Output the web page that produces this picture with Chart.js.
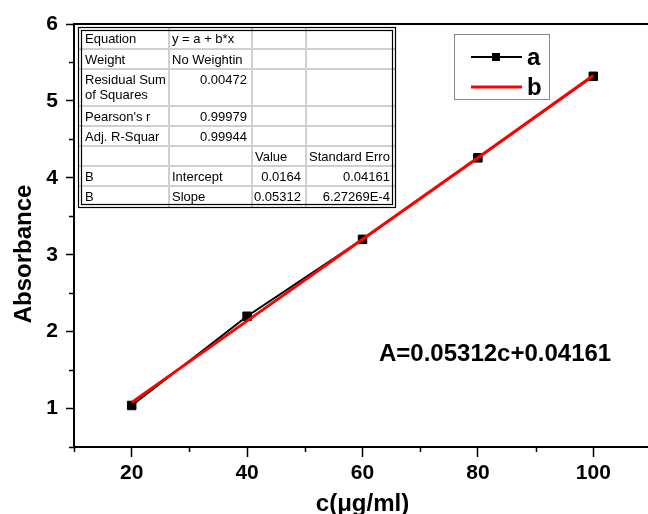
<!DOCTYPE html>
<html>
<head>
<meta charset="utf-8">
<script src="https://cdn.jsdelivr.net/npm/chart.js@4.4.0/dist/chart.umd.min.js"></script>
<style>
  html, body { margin: 0; padding: 0; background: #fff; overflow: hidden; }
  #wrap { width: 660px; height: 514px; position: relative; }
</style>
</head>
<body>
<div id="wrap"><canvas id="chart" width="660" height="514"></canvas></div>
<script>
// data
const concentrations = [20, 40, 60, 80, 100];
const absorbanceA = [1.04, 2.2, 3.2, 4.26, 5.32];      // measured points
const absorbanceB = [1.08, 2.14, 3.2, 4.26, 5.33];     // linear fit line
const seriesNames = ['a', 'b'];
const xLabelTicks = [20, 40, 60, 80, 100];
const yLabelTicks = [1, 2, 3, 4, 5, 6];
const xTitle = 'c(μg/ml)';
const yTitle = 'Absorbance';
const equationText = 'A=0.05312c+0.04161';

// fit report table (Origin style)
const tableRows = [
  ['Equation', 'y = a + b*x', '', ''],
  ['Weight', 'No Weightin', '', ''],
  ['Residual Sum\nof Squares', '0.00472', '', ''],
  ["Pearson's r", '0.99979', '', ''],
  ['Adj. R-Squar', '0.99944', '', ''],
  ['', '', 'Value', 'Standard Erro'],
  ['B', 'Intercept', '0.0164', '0.04161'],
  ['B', 'Slope', '0.05312', '6.27269E-4'],
];

const FONT = '"Liberation Sans", Arial, sans-serif';

// minor ticks, top frame and the y title (sits a bit below centre in the original)
const framePlugin = {
  id: 'frame',
  afterDraw(chart) {
    const ctx = chart.ctx;
    const { left, right, top, bottom } = chart.chartArea;
    const xs = chart.scales.x, ys = chart.scales.y;
    ctx.save();
    ctx.strokeStyle = '#000';
    ctx.lineWidth = 2;
    ctx.beginPath();
    ctx.moveTo(left - 1, top);
    ctx.lineTo(right + 1, top);
    ctx.moveTo(right, top);
    ctx.lineTo(right, bottom);
    ctx.stroke();
    ctx.lineWidth = 1.5;
    ctx.beginPath();
    for (let v = 10; v <= 110; v += 20) {
      const px = Math.round(xs.getPixelForValue(v)) + 0.5;
      ctx.moveTo(px, bottom);
      ctx.lineTo(px, bottom + 5);
    }
    for (let v = 0.5; v <= 6; v += 1) {
      const py = Math.round(ys.getPixelForValue(v)) + 0.5;
      ctx.moveTo(left, py);
      ctx.lineTo(left - 5, py);
    }
    ctx.stroke();

    ctx.translate(24, 254);
    ctx.rotate(-Math.PI / 2);
    ctx.fillStyle = '#000';
    ctx.font = 'bold 24px ' + FONT;
    ctx.textAlign = 'center';
    ctx.textBaseline = 'middle';
    ctx.fillText(yTitle, 0, 0);
    ctx.restore();
  }
};

// fit result table in the upper left
const tablePlugin = {
  id: 'fitTable',
  afterDraw(chart) {
    const ctx = chart.ctx;
    const colX = [79, 169, 252, 306, 395];
    const rowY = [28, 49, 69, 106, 126, 146, 166, 186, 207];
    ctx.save();
    ctx.fillStyle = '#fff';
    ctx.fillRect(colX[0], rowY[0], colX[4] - colX[0], rowY[8] - rowY[0]);
    // inner grid
    ctx.strokeStyle = '#cfcfcf';
    ctx.lineWidth = 2;
    ctx.beginPath();
    for (let i = 1; i < colX.length - 1; i++) {
      ctx.moveTo(colX[i], rowY[0]);
      ctx.lineTo(colX[i], rowY[8]);
    }
    for (let j = 1; j < rowY.length - 1; j++) {
      ctx.moveTo(colX[0], rowY[j]);
      ctx.lineTo(colX[4], rowY[j]);
    }
    ctx.stroke();
    // double outer border
    ctx.strokeStyle = '#000';
    ctx.lineWidth = 1.2;
    ctx.strokeRect(colX[0] - 0.5, rowY[0] - 0.5, colX[4] - colX[0] + 1, rowY[8] - rowY[0] + 1);
    ctx.strokeRect(colX[0] + 2.5, rowY[0] + 2.5, colX[4] - colX[0] - 5, rowY[8] - rowY[0] - 5);
    // text
    ctx.fillStyle = '#000';
    ctx.font = '13px ' + FONT;
    ctx.textBaseline = 'middle';
    tableRows.forEach((row, r) => {
      row.forEach((cell, c) => {
        if (!cell) return;
        const numeric = /^[0-9.E-]+$/.test(cell);
        ctx.textAlign = numeric ? 'right' : 'left';
        const x = numeric ? colX[c + 1] - 5 : colX[c] + (c === 0 ? 6 : 3);
        cell.split('\n').forEach((line, k) => {
          ctx.fillText(line, x, rowY[r] + 11.5 + k * 15);
        });
      });
    });
    ctx.restore();
  }
};

// legend box and equation label
const notePlugin = {
  id: 'notes',
  afterDraw(chart) {
    const ctx = chart.ctx;
    const dsA = chart.data.datasets[1], dsB = chart.data.datasets[0];
    ctx.save();
    ctx.strokeStyle = '#888';
    ctx.lineWidth = 1;
    ctx.strokeRect(454.5, 34.5, 95, 65);
    ctx.lineWidth = dsA.borderWidth;
    ctx.strokeStyle = dsA.borderColor;
    ctx.beginPath();
    ctx.moveTo(471, 57);
    ctx.lineTo(522, 57);
    ctx.stroke();
    ctx.fillStyle = dsA.pointBackgroundColor;
    ctx.fillRect(492, 53, 8, 8);
    ctx.lineWidth = dsB.borderWidth;
    ctx.strokeStyle = dsB.borderColor;
    ctx.beginPath();
    ctx.moveTo(471, 87);
    ctx.lineTo(522, 87);
    ctx.stroke();
    ctx.fillStyle = '#000';
    ctx.font = 'bold 24px ' + FONT;
    ctx.textAlign = 'left';
    ctx.textBaseline = 'alphabetic';
    ctx.fillText(dsA.label, 527, 65);
    ctx.fillText(dsB.label, 527, 95);
    ctx.fillText(equationText, 379, 361);
    ctx.restore();
  }
};

new Chart(document.getElementById('chart'), {
  type: 'line',
  data: {
    datasets: [
      {
        label: seriesNames[1],
        data: concentrations.map((c, i) => ({ x: c, y: absorbanceB[i] })),
        borderColor: '#ff0000',
        borderWidth: 3,
        pointRadius: 0,
        order: 0,
      },
      {
        label: seriesNames[0],
        data: concentrations.map((c, i) => ({ x: c, y: absorbanceA[i] })),
        borderColor: '#000',
        backgroundColor: '#000',
        pointBackgroundColor: '#000',
        pointBorderColor: '#000',
        borderWidth: 2,
        pointStyle: 'rect',
        pointRadius: 6,
        pointBorderWidth: 1,
        order: 1,
      },
    ],
  },
  options: {
    responsive: false,
    animation: false,
    layout: { padding: { left: 0, right: 9, top: 24, bottom: 0 } },
    plugins: { legend: { display: false }, tooltip: { enabled: false } },
    scales: {
      x: {
        type: 'linear',
        min: 10,
        max: 110,
        afterBuildTicks: (scale) => {
          scale.ticks = xLabelTicks.map((v) => ({ value: v }));
        },
        afterFit: (scale) => { scale.height = 67; },
        grid: { drawOnChartArea: false, tickLength: 10, tickColor: '#000', tickWidth: 1.5 },
        border: { color: '#000', width: 2 },
        ticks: { color: '#000', font: { family: FONT, size: 21, weight: 'bold' }, padding: 4, maxRotation: 0 },
        title: {
          display: true,
          text: xTitle,
          color: '#000',
          font: { family: FONT, size: 24, weight: 'bold' },
          padding: { top: 0, bottom: -5 },
        },
      },
      y: {
        type: 'linear',
        min: 0.5,
        max: 6,
        afterBuildTicks: (scale) => {
          scale.ticks = yLabelTicks.map((v) => ({ value: v }));
        },
        afterFit: (scale) => { scale.width = 74; },
        grid: { drawOnChartArea: false, tickLength: 8, tickColor: '#000', tickWidth: 1.5 },
        border: { color: '#000', width: 2 },
        ticks: { color: '#000', font: { family: FONT, size: 21, weight: 'bold' }, padding: 8 },
      },
    },
  },
  plugins: [framePlugin, tablePlugin, notePlugin],
});
</script>
</body>
</html>
